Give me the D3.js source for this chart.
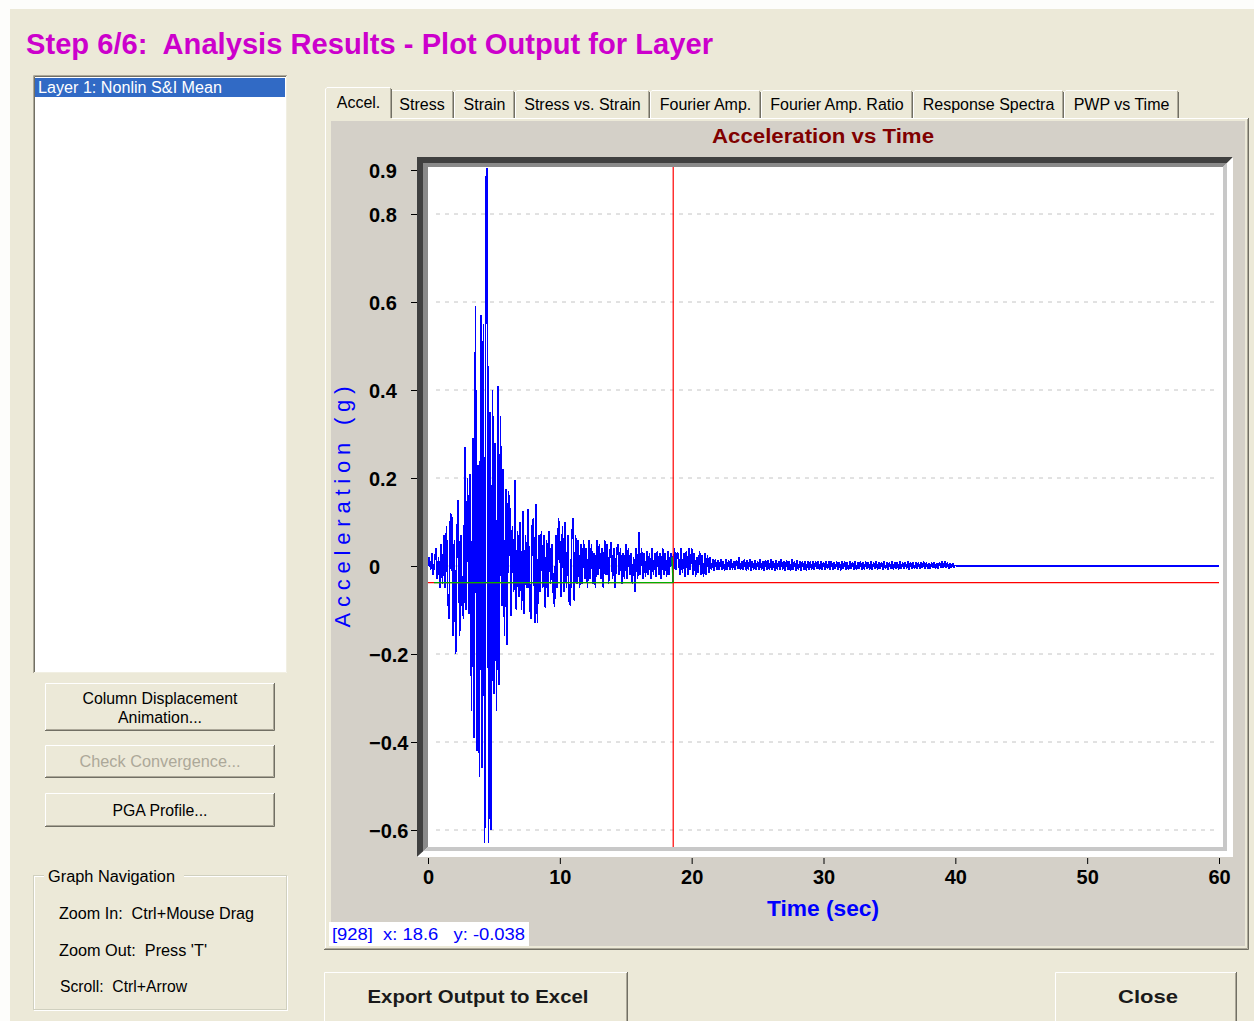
<!DOCTYPE html>
<html>
<head>
<meta charset="utf-8">
<title>Analysis Results - Acceleration vs Time</title>
<script src="https://cdn.jsdelivr.net/npm/d3@7"></script>
<style>
  html, body { margin: 0; padding: 0; background: #fff; }
  svg { display: block; }
  text { font-family: "Liberation Sans", Arial, sans-serif; white-space: pre; }
</style>
</head>
<body>
<svg id="win" width="1254" height="1021"></svg>
<script>
// ---------------------------------------------------------------
// Layer 1 acceleration time history (g), one sample every 0.1 s
// ---------------------------------------------------------------
const SAMPLE_DT = 0.1;
const accel = [
  // 0 - 1 s
  0.00, 0.02, -0.01, 0.03, -0.02, 0.01, 0.04, -0.03, 0.02, -0.05,
  // 1 - 2 s
  0.05, -0.04, 0.07, -0.05, 0.09, -0.07, -0.12, 0.12, 0.11, -0.16,
  // 2 - 3 s
  0.06, -0.20, 0.08, 0.15, -0.16, 0.07, -0.09, -0.12, 0.27, -0.10,
  // 3 - 4 s
  0.20, -0.11, 0.21, -0.33, 0.29, -0.39, 0.59, -0.42, 0.23, -0.48,
  // 4 - 5 s
  0.57, -0.46, 0.55, -0.63, 0.88, 0.905, -0.63, 0.35, -0.60, 0.40,
  // 5 - 6 s
  -0.29, 0.28, -0.33, 0.41, -0.27, 0.34, -0.09, 0.22, -0.16, 0.175,
  // 6 - 7 s
  -0.18, 0.17, 0.13, -0.113, 0.09, -0.06, 0.195, -0.10, 0.08, -0.07,
  // 7 - 8 s
  0.10, -0.10, 0.125, -0.11, 0.07, -0.05, 0.13, -0.08, -0.12, 0.09,
  // 8 - 9 s
  0.11, -0.13, 0.14, -0.13, 0.07, -0.06, 0.08, -0.05, 0.07, -0.096,
  // 9 - 10 s
  0.06, -0.07, 0.08, -0.04, 0.05, -0.06, -0.093, 0.07, -0.05, 0.11,
  // 10 - 11 s
  0.05, -0.07, 0.09, -0.06, 0.10, -0.05, 0.07, -0.08, -0.09, 0.06,
  // 11 - 12 s
  0.11, -0.08, 0.07, -0.04, 0.06, -0.05, 0.05, -0.04, 0.06, -0.03,
  // 12 - 13 s
  0.04, -0.05, 0.06, -0.03, 0.05, -0.04, 0.03, -0.05, 0.06, -0.02,
  // 13 - 14 s
  0.05, -0.03, 0.04, -0.05, 0.06, -0.02, 0.05, -0.04, 0.03, 0.055,
  // 14 - 15 s
  -0.03, 0.04, -0.05, 0.03, 0.05, -0.02, 0.04, -0.04, 0.03, -0.03,
  // 15 - 16 s
  0.05, -0.03, 0.04, -0.02, 0.03, -0.04, 0.02, -0.06, 0.04, -0.03,
  // 16 - 17 s
  0.077, -0.02, 0.04, -0.03, 0.03, -0.025, 0.035, -0.02, 0.03, -0.03,
  // 17 - 18 s
  0.04, -0.02, 0.03, -0.025, 0.035, -0.02, 0.03, -0.03, 0.04, -0.02,
  // 18 - 19 s
  0.03, -0.025, 0.035, -0.02, 0.03, 0.02, -0.038, 0.04, -0.01, 0.03,
  // 19 - 20 s
  0.025, -0.02, 0.04, -0.015, 0.03, -0.025, 0.035, -0.02, 0.04, -0.01,
  // 20 - 21 s
  0.04, -0.02, 0.03, -0.025, 0.02, -0.015, 0.035, -0.02, 0.025, -0.025,
  // 21 - 22 s
  0.03, -0.02, 0.025, -0.015, 0.02, -0.01, 0.016, -0.012, 0.015, -0.01,
  // 22 - 23 s
  0.014, -0.01, 0.016, -0.008, 0.012, -0.011, 0.015, -0.009, 0.013, -0.01,
  // 23 - 24 s
  0.016, -0.008, 0.012, -0.01, 0.014, -0.007, 0.02, -0.01, 0.012, -0.009,
  // 24 - 25 s
  0.015, -0.01, 0.013, -0.008, 0.016, -0.011, 0.012, -0.009, 0.014, -0.01,
  // 25 - 26 s
  0.012, -0.008, 0.016, -0.01, 0.011, -0.012, 0.014, -0.008, 0.013, -0.01,
  // 26 - 27 s
  0.015, -0.009, 0.012, -0.011, 0.014, -0.008, 0.012, -0.01, 0.016, -0.009,
  // 27 - 28 s
  0.011, -0.01, 0.013, -0.008, 0.012, -0.012, 0.015, -0.009, 0.011, -0.01,
  // 28 - 29 s
  0.013, -0.009, 0.012, -0.012, 0.01, -0.008, 0.012, -0.01, 0.011, -0.009,
  // 29 - 30 s
  0.01, -0.008, 0.012, -0.009, 0.011, -0.007, 0.01, -0.009, 0.012, -0.008,
  // 30 - 31 s
  0.009, -0.008, 0.011, -0.007, 0.01, -0.009, 0.012, -0.008, 0.009, -0.007,
  // 31 - 32 s
  0.01, -0.008, 0.009, -0.01, 0.011, -0.007, 0.01, -0.008, 0.009, -0.009,
  // 32 - 33 s
  0.011, -0.007, 0.009, -0.008, 0.01, -0.009, 0.008, -0.007, 0.01, -0.008,
  // 33 - 34 s
  0.009, -0.008, 0.01, -0.007, 0.009, -0.009, 0.011, -0.008, 0.008, -0.007,
  // 34 - 35 s
  0.01, -0.008, 0.008, -0.007, 0.009, -0.008, 0.01, -0.006, 0.008, -0.008,
  // 35 - 36 s
  0.009, -0.007, 0.01, -0.008, 0.008, -0.006, 0.009, -0.008, 0.01, -0.007,
  // 36 - 37 s
  0.008, -0.007, 0.009, -0.006, 0.01, -0.008, 0.008, -0.007, 0.009, -0.006,
  // 37 - 38 s
  0.008, -0.006, 0.009, -0.007, 0.008, -0.005, 0.01, -0.006, 0.008, -0.007,
  // 38 - 39 s
  0.007, -0.006, 0.008, -0.005, 0.009, -0.007, 0.007, -0.006, 0.008, -0.005,
  // 39 - 40 s
  0.01, -0.005, 0.012, -0.004, 0.008, -0.006, 0.007, -0.004, 0.006, -0.003,
  // 40 s
  0.002, 0.0
];
const recordEnd = 60;          // s, output padded with zeros up to here

// selected point (cursor readout)
const cursorSample = 928;
const cursorIndex = 186;
const cursorTime = 18.6;
const cursorAccel = -0.038;

const yTickValues = [0.9, 0.8, 0.6, 0.4, 0.2, 0, -0.2, -0.4, -0.6];
const yGridValues = [0.8, 0.6, 0.4, 0.2, 0, -0.2, -0.4, -0.6];
const xTickValues = [0, 10, 20, 30, 40, 50, 60];

const tabLabels = ["Accel.", "Stress", "Strain", "Stress vs. Strain", "Fourier Amp.",
                   "Fourier Amp. Ratio", "Response Spectra", "PWP vs Time"];
const layerItems = ["Layer 1: Nonlin S&I Mean"];
const navHints = ["Zoom In:  Ctrl+Mouse Drag", "Zoom Out:  Press 'T'", "Scroll:  Ctrl+Arrow"];

// ---------------------------------------------------------------
const svg = d3.select("#win");
const BEIGE = "#ece9d8", PANEL = "#d4d0c8";

function label(parent, x, y, str, o = {}) {
  const t = parent.append("text")
    .attr("x", x).attr("y", y)
    .attr("font-size", o.size || 16)
    .attr("font-weight", o.bold ? "bold" : "normal")
    .attr("fill", o.color || "#000")
    .attr("text-anchor", o.anchor || "start")
    .text(str);
  if (o.family) t.attr("font-family", o.family);
  if (o.width) t.attr("textLength", o.width).attr("lengthAdjust", "spacingAndGlyphs");
  return t;
}

function button(x, y, w, h) {
  const g = svg.append("g");
  g.append("rect").attr("x", x).attr("y", y).attr("width", w).attr("height", h).attr("fill", BEIGE);
  g.append("path").attr("d", `M${x + 0.5},${y + h - 1} V${y + 0.5} H${x + w - 1}`)
    .attr("stroke", "#fff").attr("fill", "none");
  g.append("path").attr("d", `M${x + w - 0.5},${y} V${y + h - 0.5} H${x}`)
    .attr("stroke", "#716f64").attr("fill", "none");
  g.append("path").attr("d", `M${x + w - 1.5},${y + 1} V${y + h - 1.5} H${x + 1}`)
    .attr("stroke", "#aca899").attr("fill", "none");
  return g;
}

// window background
svg.append("rect").attr("width", 1254).attr("height", 1021).attr("fill", "#fdfdfb");
svg.append("rect").attr("x", 10).attr("y", 9).attr("width", 1244).attr("height", 1012).attr("fill", BEIGE);

// page heading
label(svg, 26, 54, "Step 6/6:  Analysis Results - Plot Output for Layer",
  { size: 29, bold: true, color: "#cc00cc", width: 687 });

// ---- layer list ----
svg.append("rect").attr("x", 33).attr("y", 75).attr("width", 254).attr("height", 598).attr("fill", "#fff");
svg.append("path").attr("d", "M33.5,673 V75.5 H287").attr("stroke", "#aca899").attr("fill", "none");
svg.append("path").attr("d", "M34.5,672 V76.5 H286").attr("stroke", "#716f64").attr("fill", "none");
svg.append("path").attr("d", "M286.5,76 V672.5 H34").attr("stroke", "#f1efe2").attr("fill", "none");
layerItems.forEach((item, i) => {
  const yy = 78 + i * 19;
  if (i === 0) svg.append("rect").attr("x", 35).attr("y", yy).attr("width", 250).attr("height", 19).attr("fill", "#316ac5");
  label(svg, 38, yy + 15, item, { size: 16, color: i === 0 ? "#fff" : "#000", width: 184 });
});

// ---- side buttons ----
button(45, 683, 230, 48);
label(svg, 160, 704, "Column Displacement", { anchor: "middle", width: 155 });
label(svg, 160, 723, "Animation...", { anchor: "middle", width: 84 });
button(45, 745, 230, 33);
label(svg, 160, 767, "Check Convergence...", { anchor: "middle", width: 161, color: "#aca899" });
button(45, 793, 230, 34);
label(svg, 160, 816, "PGA Profile...", { anchor: "middle", width: 95 });

// ---- navigation group box ----
svg.append("rect").attr("x", 34.5).attr("y", 876.5).attr("width", 253).attr("height", 134)
  .attr("fill", "none").attr("stroke", "#fff");
svg.append("rect").attr("x", 33.5).attr("y", 875.5).attr("width", 253).attr("height", 134)
  .attr("fill", "none").attr("stroke", "#d0d0bf");
svg.append("rect").attr("x", 44).attr("y", 866).attr("width", 140).attr("height", 20).attr("fill", BEIGE);
label(svg, 48, 882, "Graph Navigation", { width: 127 });
const hintWidths = [195, 148, 127];
navHints.forEach((h, i) => label(svg, i === 2 ? 60 : 59, 919 + i * 36.5, h, { width: hintWidths[i] }));

// ---- tab page ----
svg.append("rect").attr("x", 324).attr("y", 118).attr("width", 925).attr("height", 832).attr("fill", BEIGE);
svg.append("path").attr("d", "M325.5,950 V118.5 H1249").attr("stroke", "#fff").attr("fill", "none");
svg.append("path").attr("d", "M1248.5,118 V949.5 H324").attr("stroke", "#716f64").attr("fill", "none");
svg.append("path").attr("d", "M1247.5,119 V948.5 H325").attr("stroke", "#aca899").attr("fill", "none");
svg.append("rect").attr("x", 331).attr("y", 121).attr("width", 914).attr("height", 825).attr("fill", PANEL);

// tabs
const tabG = svg.append("g");
let tabX = 327;
tabLabels.forEach((lab, i) => {
  const sel = i === 0;
  const g = tabG.append("g");
  const t = label(g, 0, 0, lab, { size: 16 });
  const w = t.node().getComputedTextLength();
  const tw = Math.round(w + 19);
  const x0 = sel ? tabX - 2 : tabX, x1 = sel ? tabX + tw + 2 : tabX + tw;
  const yTop = sel ? 87 : 90, yBot = sel ? 120 : 118;
  g.insert("path", "text")
    .attr("d", `M${x0},${yBot} V${yTop + 2} L${x0 + 2},${yTop} H${x1 - 2} L${x1},${yTop + 2} V${yBot} Z`)
    .attr("fill", BEIGE);
  g.append("path").attr("d", `M${x0 + 0.5},${yBot} V${yTop + 2} L${x0 + 2},${yTop + 0.5} H${x1 - 2}`)
    .attr("stroke", "#fff").attr("fill", "none");
  g.append("path").attr("d", `M${x1 - 0.5},${yTop + 2} V${yBot - (sel ? 2 : 0)}`).attr("stroke", "#716f64");
  g.append("path").attr("d", `M${x1 - 1.5},${yTop + 1} V${yBot - (sel ? 2 : 0)}`).attr("stroke", "#aca899");
  t.attr("x", (x0 + x1) / 2).attr("text-anchor", "middle").attr("y", sel ? 108 : 110).raise();
  if (sel) g.attr("data-selected", 1);
  tabX += tw;
});
tabG.select("[data-selected]").raise();

// ---------------------------------------------------------------
// Chart
// ---------------------------------------------------------------
const x = d3.scaleLinear().domain([0, 60]).range([428, 1219]);
const y = d3.scaleLinear().domain([-0.6, 0.9]).range([830, 170]);

const px0 = x(0), px1 = x(60) + 4;
const py0 = y(0.9) - 3, py1 = y(-0.6) + 17;

label(svg, 823, 143, "Acceleration vs Time", { size: 20, bold: true, color: "#800000", anchor: "middle", width: 222 });

// 3-D frame around the plotting area
const D = 10;
svg.append("polygon").attr("fill", "#404040").attr("points",
  [[px0 - 11, py0 - D], [px1 + D, py0 - D], [px1, py0], [px0, py0], [px0, py1], [px0 - 11, py1 + D]].join(" "));
svg.append("polygon").attr("fill", "#8a8a8a").attr("points",
  [[px0 - 5, py0 - 4], [px1 + 4, py0 - 4], [px1, py0], [px0, py0], [px0, py1], [px0 - 5, py1 + 4]].join(" "));
svg.append("polygon").attr("fill", "#fff").attr("points",
  [[px1 + D, py0 - D], [px1 + D, py1 + D], [px0 - 11, py1 + D], [px0, py1], [px1, py1], [px1, py0]].join(" "));
svg.append("polygon").attr("fill", "#c8c8c8").attr("points",
  [[px1 + 4, py0 - 4], [px1 + 4, py1 + 4], [px0 - 5, py1 + 4], [px0, py1], [px1, py1], [px1, py0]].join(" "));
svg.append("rect").attr("x", px0).attr("y", py0).attr("width", px1 - px0).attr("height", py1 - py0).attr("fill", "#fff");

svg.append("defs").append("clipPath").attr("id", "plotClip")
  .append("rect").attr("x", px0).attr("y", py0).attr("width", px1 - px0).attr("height", py1 - py0);

// grid
svg.append("g").selectAll("line").data(yGridValues).join("line")
  .attr("x1", px0 + 8).attr("x2", x(60))
  .attr("y1", d => y(d)).attr("y2", d => y(d))
  .attr("stroke", "#c4c4c4").attr("stroke-dasharray", "4,5");

// acceleration trace
const points = accel.map((a, i) => ({ t: i * SAMPLE_DT, a }));
points.push({ t: recordEnd, a: 0 });
const line = d3.line().x(d => x(d.t)).y(d => y(d.a));
svg.append("path").datum(points)
  .attr("clip-path", "url(#plotClip)")
  .attr("d", line)
  .attr("fill", "none").attr("stroke", "#0000ff").attr("stroke-width", 1.6)
  .attr("stroke-linejoin", "bevel")
  .attr("shape-rendering", "crispEdges");

// cursor cross-hair
svg.append("line").attr("x1", px0).attr("x2", x(60))
  .attr("y1", y(cursorAccel)).attr("y2", y(cursorAccel))
  .attr("stroke", "#ff0000").attr("stroke-width", 1.2);
svg.append("line").attr("x1", x(cursorTime)).attr("x2", x(cursorTime))
  .attr("y1", py0).attr("y2", py1)
  .attr("stroke", "#ff0000").attr("stroke-width", 1.2);
svg.append("line").attr("x1", px0 + 6).attr("x2", x(cursorTime))
  .attr("y1", y(cursorAccel)).attr("y2", y(cursorAccel))
  .attr("stroke", "#00b000").attr("stroke-width", 1.2);
svg.append("path").datum(points.slice(cursorIndex - 1, cursorIndex + 1))
  .attr("d", line).attr("fill", "none").attr("stroke", "#00b000").attr("stroke-width", 1.5);

// axes
const yAxis = svg.append("g")
  .attr("transform", `translate(${px0 - 11},0)`)
  .call(d3.axisLeft(y).tickValues(yTickValues).tickSize(6).tickFormat(d => d === 0 ? "0" : d3.format(".1f")(d)));
yAxis.select(".domain").remove();
yAxis.attr("font-family", null).attr("font-size", null).attr("color", "#000").attr("text-anchor", "start");
yAxis.selectAll("text").attr("x", -48).attr("dy", "0.35em")
  .attr("font-size", 20).attr("font-weight", "bold").attr("fill", "#000");

const xAxis = svg.append("g")
  .attr("transform", `translate(0,${py1 + 11})`)
  .call(d3.axisBottom(x).tickValues(xTickValues).tickSize(6).tickPadding(6));
xAxis.select(".domain").remove();
xAxis.attr("font-family", null).attr("font-size", null).attr("color", "#000");
xAxis.selectAll("text").attr("font-size", 20).attr("font-weight", "bold").attr("fill", "#000");

// axis titles
label(svg, 823, 916, "Time (sec)", { size: 22, bold: true, color: "#0000ff", anchor: "middle", width: 112 });
svg.append("text")
  .attr("transform", "translate(350,507) rotate(-90)")
  .attr("font-family", "'Liberation Mono', 'DejaVu Sans Mono', monospace")
  .attr("font-size", 22).attr("fill", "#0000ff").attr("text-anchor", "middle")
  .attr("textLength", 241).attr("lengthAdjust", "spacing")
  .text("Acceleration (g)");

// cursor readout
svg.append("rect").attr("x", 329).attr("y", 922).attr("width", 200).attr("height", 24).attr("fill", "#fff");
label(svg, 332, 940, `[${cursorSample}]  x: ${cursorTime}   y: ${cursorAccel}`,
  { size: 17, color: "#0000ff", width: 193 });

// ---- bottom buttons ----
button(324, 972, 304, 60);
label(svg, 478, 1003, "Export Output to Excel", { size: 19, bold: true, anchor: "middle", width: 221, color: "#1a1a1a" });
button(1055, 972, 182, 60);
label(svg, 1148, 1003, "Close", { size: 19, bold: true, anchor: "middle", width: 60, color: "#1a1a1a" });
</script>
</body>
</html>
